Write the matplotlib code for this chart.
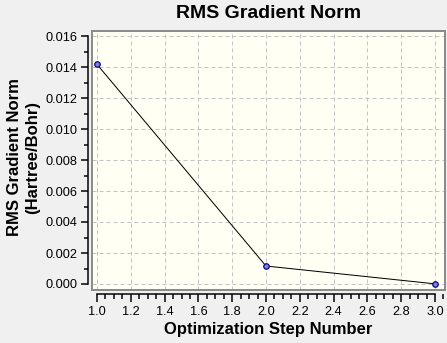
import matplotlib
matplotlib.use("Agg")
import matplotlib.pyplot as plt
from matplotlib.patches import Rectangle
from matplotlib.ticker import MultipleLocator, FormatStrFormatter

# optimization history
steps = [1, 2, 3]
rms_grad = [0.01417, 0.00116, 0.00001]

W, H, DPI = 447, 343, 100
PT = 72.0 / DPI  # one pixel in points

plt.rcParams["font.family"] = ["Liberation Sans", "DejaVu Sans"]
plt.rcParams["lines.scale_dashes"] = False

fig = plt.figure(figsize=(W / DPI, H / DPI), dpi=DPI, facecolor="#f0f0f0")

# plot box in pixels: left 92, right 445, top 31, bottom 290
L, R, T, B = 92, 445, 31, 290
ax = fig.add_axes([L / W, (H - B) / H, (R - L) / W, (B - T) / H])
ax.set_facecolor("#fffff4")

# x = 1.0 at px 97, 3.0 at px 435 ; y = 0.016 at px 36, 0 at px 284
xs = (435 - 97) / 2.0
ys = (284 - 36) / 0.016
ax.set_xlim(1 - (97 - L) / xs, 3 + (R - 435) / xs)
ax.set_ylim(0 - (B - 284) / ys, 0.016 + (36 - T) / ys)

ax.plot(steps, rms_grad, color="black", lw=1.0 * PT, zorder=3)
ax.plot(steps, rms_grad, ls="none", marker="o", ms=5.5 * PT,
        mfc="#8080d0", mec="#000080", mew=1.2 * PT, zorder=4)

ax.xaxis.set_major_locator(MultipleLocator(0.2))
ax.xaxis.set_minor_locator(MultipleLocator(0.05))
ax.yaxis.set_major_locator(MultipleLocator(0.002))
ax.yaxis.set_minor_locator(MultipleLocator(0.001))
ax.xaxis.set_major_formatter(FormatStrFormatter("%.1f"))
ax.yaxis.set_major_formatter(FormatStrFormatter("%.3f"))

ax.grid(True, which="major", color="#c4c4c4", lw=1.0 * PT,
        ls=(0, (4 * PT, 3 * PT)), zorder=1)

# gray frame around the plotting area
ax.add_patch(Rectangle((0, 0), 1, 1, transform=ax.transAxes, fill=False,
                       ec="#8c8c8c", lw=2 * PT, clip_on=False, zorder=5))

for s in ("top", "right"):
    ax.spines[s].set_visible(False)
for s in ("left", "bottom"):
    ax.spines[s].set_position(("outward", 4 * PT))
    ax.spines[s].set_linewidth(1.5 * PT)
    ax.spines[s].set_color("black")
ax.spines["left"].set_bounds(0, 0.016)
ax.spines["bottom"].set_bounds(1, 3)

ax.tick_params(axis="y", which="major", direction="out", length=7 * PT,
               width=1.5 * PT, pad=4 * PT, labelsize=9.2)
ax.tick_params(axis="y", which="minor", direction="out", length=4 * PT,
               width=1.5 * PT)
ax.tick_params(axis="x", which="major", direction="out", length=8 * PT,
               width=1.5 * PT, pad=4 * PT, labelsize=9.2)
ax.tick_params(axis="x", which="minor", direction="out", length=5 * PT,
               width=1.5 * PT)

cx = (L + R) / 2.0
fig.text(cx / W, 1 - 13.5 / H, "RMS Gradient Norm", ha="center", va="center",
         fontsize=14, fontweight="bold")
fig.text(cx / W, 1 - 329.5 / H, "Optimization Step Number", ha="center",
         va="center", fontsize=12, fontweight="bold")
fig.text(23.5 / W, 1 - 157 / H, "RMS Gradient Norm\n(Hartree/Bohr)",
         ha="center", va="center", rotation=90, fontsize=12,
         fontweight="bold", multialignment="center", linespacing=1.25)

fig.savefig("out.png", dpi=DPI, facecolor=fig.get_facecolor())
